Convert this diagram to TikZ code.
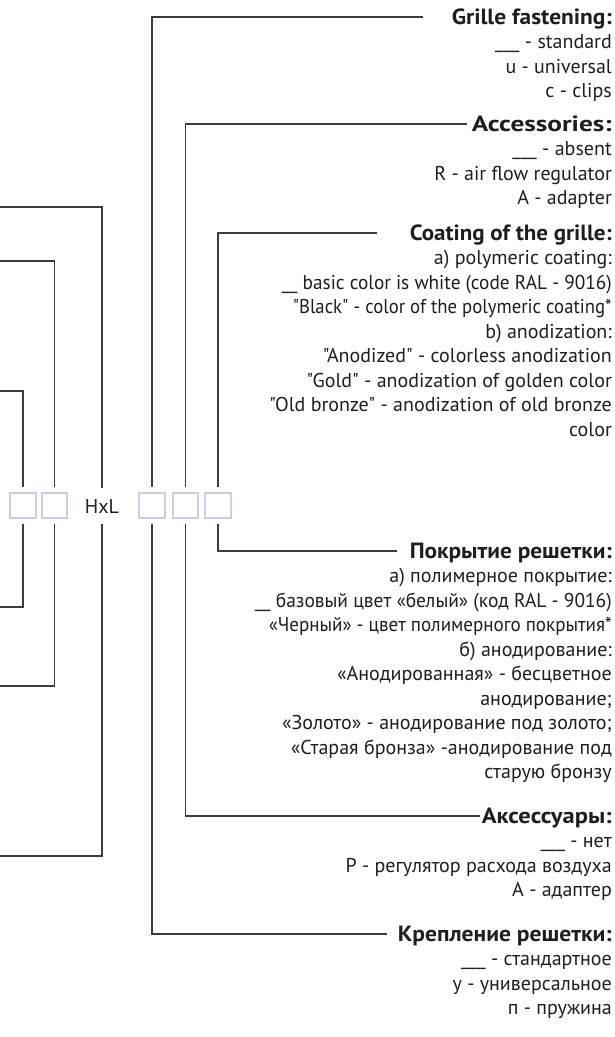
\documentclass[tikz,border=0pt]{standalone}
\usepackage{fontspec}
\usepackage{graphicx}
\newfontfamily\fmain{PT Sans}
\newcommand\fitw[2]{\resizebox{#1}{\height}{#2}}
\definecolor{boxc}{RGB}{200,206,234}
\definecolor{linec}{RGB}{60,60,60}
\definecolor{txtc}{RGB}{30,30,30}
\begin{document}
\begin{tikzpicture}[x=1pt,y=-1pt,
  cell/.style={draw=boxc,line width=2pt,fill=white,minimum width=25.5pt,minimum height=25.5pt,inner sep=0pt},
  conn/.style={draw=linec,line width=1.3pt},
  head/.style={anchor=base east,inner sep=0pt,text=txtc,font={\fmain\fontsize{22}{24}\selectfont\bfseries}},
  item/.style={anchor=base east,inner sep=0pt,text=txtc,font={\fmain\fontsize{20}{24}\selectfont}}]
\useasboundingbox (0,0) rectangle (614,1037);
% cells
\node[cell] (b1) at (23,505.5) {};
\node[cell] (b2) at (54.5,505.5) {};
\node[item,anchor=center,minimum height=36pt] (h) at (102,506) {HxL};
\node[cell] (b3) at (152,505.5) {};
\node[cell] (b4) at (185.5,505.5) {};
\node[cell] (b5) at (218,505.5) {};
% free ends on the left
\coordinate (l1) at (0,391);
\coordinate (l2) at (0,261);
\coordinate (l3) at (0,207);
\coordinate (l4) at (0,607);
\coordinate (l5) at (0,686);
\coordinate (l6) at (0,856);
% line ends on the right
\coordinate (eg) at (423,17);
\coordinate (ea) at (467,124);
\coordinate (ec) at (377,233);
\coordinate (rc) at (397,551);
\coordinate (ra) at (480,816);
\coordinate (rk) at (387,934);
% connectors
\draw[conn] ([yshift=5pt]b1.north) |- (l1);
\draw[conn] ([yshift=5pt]b2.north) |- (l2);
\draw[conn] (h.north) |- (l3);
\draw[conn] ([yshift=-5pt]b1.south) |- (l4);
\draw[conn] ([yshift=-5pt]b2.south) |- (l5);
\draw[conn] (h.south) |- (l6);
\draw[conn] ([yshift=5pt]b3.north) |- (eg);
\draw[conn] ([yshift=5pt]b4.north) |- (ea);
\draw[conn] ([yshift=5pt]b5.north) |- (ec);
\draw[conn] ([yshift=-5pt]b5.south) |- (rc);
\draw[conn] ([yshift=-5pt]b4.south) |- (ra);
\draw[conn] ([yshift=-5pt]b3.south) |- (rk);
% English texts
\node[head] (tg) at (612,24) {\fitw{160pt}{Grille fastening:}};
\foreach \t [count=\i] in {{\_\_\_ - standard},{u - universal},{c - clips}}
  \node[item] (tg\i) at (612,{24+\i*24.5}) {\t};
\node[head] (ta) at (612,131) {\fitw{140pt}{Accessories:}};
\foreach \t [count=\i] in {{\_\_\_ - absent},{R - air flow regulator},{A - adapter}}
  \node[item] (ta\i) at (612,{131+\i*24.5}) {\t};
\node[head] (tc) at (612,240) {\fitw{202pt}{Coating of the grille:}};
\node[item] (tc1) at (612,264.5) {a) polymeric coating:};
\node[item] (tc2) at (612,289) {\fitw{330pt}{\_\_ basic color is white (code RAL - 9016)}};
\node[item] (tc3) at (612,313.5) {\fitw{319pt}{"Black" - color of the polymeric coating*}};
\node[item] (tc4) at (612,338) {b) anodization:};
\node[item] (tc5) at (612,362.5) {"Anodized" - colorless anodization};
\node[item] (tc6) at (612,387) {"Gold" - anodization of golden color};
\node[item] (tc7) at (612,411.5) {"Old bronze" - anodization of old bronze};
\node[item] (tc8) at (612,436) {color};
% Russian texts
\node[head] (rp) at (612,558) {\fitw{202pt}{Покрытие решетки:}};
\node[item] (rp1) at (612,582.5) {а) полимерное покрытие:};
\node[item] (rp2) at (612,607) {\fitw{357pt}{\_\_ базовый цвет «белый» (код RAL - 9016)}};
\node[item] (rp3) at (612,631.5) {\fitw{343pt}{«Черный» - цвет полимерного покрытия*}};
\node[item] (rp4) at (612,656) {б) анодирование:};
\node[item] (rp5) at (612,680.5) {«Анодированная» - бесцветное};
\node[item] (rp6) at (612,705) {анодирование;};
\node[item] (rp7) at (612,729.5) {«Золото» - анодирование под золото;};
\node[item] (rp8) at (612,754) {«Старая бронза» -анодирование под};
\node[item] (rp9) at (612,778.5) {старую бронзу};
\node[head] (rs) at (612,823) {\fitw{130pt}{Аксессуары:}};
\foreach \t [count=\i] in {{\_\_\_ - нет},{Р - регулятор расхода воздуха},{А - адаптер}}
  \node[item] (rs\i) at (612,{823+\i*24.5}) {\t};
\node[head] (rkh) at (612,941) {\fitw{214pt}{Крепление решетки:}};
\foreach \t [count=\i] in {{\_\_\_ - стандартное},{у - универсальное},{п - пружина}}
  \node[item] (rk\i) at (612,{941+\i*24.5}) {\t};
\end{tikzpicture}
\end{document}
